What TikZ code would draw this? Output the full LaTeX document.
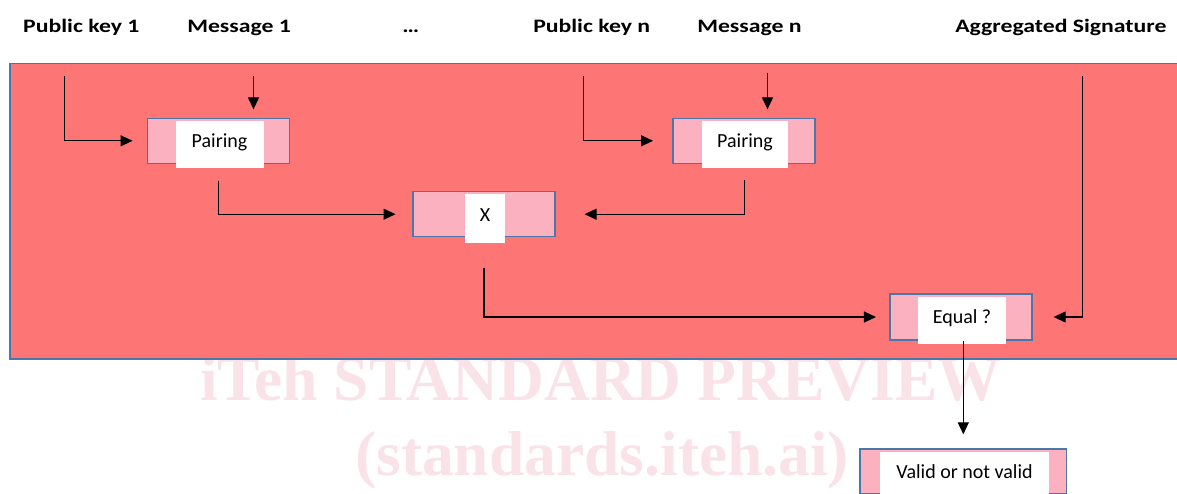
\documentclass[tikz,border=0pt]{standalone}
\usepackage{fontspec}
\setmainfont{Carlito}
\newfontfamily\wmfont{Liberation Serif}
\usetikzlibrary{arrows.meta}
\definecolor{bgred}{RGB}{253,117,117}
\definecolor{boxpink}{RGB}{252,177,192}
\definecolor{edgeblue}{RGB}{74,118,168}
\definecolor{wmpink}{RGB}{249,227,233}
\tikzset{
  pinkbox/.style={draw=edgeblue, line width=1.3pt, fill=boxpink, minimum width=142pt, minimum height=45pt, inner sep=0pt},
  whitelbl/.style={fill=white, inner sep=0pt, minimum height=47pt, text height=11.5pt, text depth=6pt, font=\fontsize{20}{23}\selectfont},
  toplbl/.style={anchor=base west, inner sep=0pt, font=\fontsize{19}{22}\selectfont\bfseries, xscale=1.25},
  wmark/.style={anchor=base west, inner sep=0pt, text=wmpink, font=\wmfont\bfseries\fontsize{63.5}{64}\selectfont},
  arr/.style={line width=1.2pt, -{Triangle[length=12pt,width=11pt]}},
}
\begin{document}
\begin{tikzpicture}[x=1pt,y=-1pt]
\useasboundingbox (0,0) rectangle (1177,493);
\clip (0,0) rectangle (1177,493);
% watermark
\node[wmark] (wm1) at (200,400) {iTeh STANDARD PREVIEW};
\node[wmark] (wm2) at (355,475) {(standards.iteh.ai)};
% background panel
\draw[draw=edgeblue, line width=1.5pt, fill=bgred] (10,63.5) rectangle (1195,359);
% top labels
\node[toplbl] (pk1) at (23,32.7) {Public key 1};
\node[toplbl] (m1) at (187,32.7) {Message 1};
\node[toplbl] (dots) at (402,32.7) {…};
\node[toplbl] (pkn) at (533,32.7) {Public key n};
\node[toplbl] (mn) at (697,32.7) {Message n};
\node[toplbl] (agg) at (955,32.7) {Aggregated Signature};
% boxes
\node[pinkbox] (p1) at (218.2,140.8) {};
\node[whitelbl, minimum width=88pt] (p1t) at (219.5,144.7) {Pairing};
\node[pinkbox] (pn) at (744,140.8) {};
\node[whitelbl, minimum width=86pt] (pnt) at (745,144.7) {Pairing};
\node[pinkbox] (x) at (483.9,214.2) {};
\node[whitelbl, minimum width=40pt, minimum height=48.7pt] (xt) at (485,218.3) {X};
\node[pinkbox, minimum height=46pt] (eq) at (961,317) {};
\node[whitelbl, minimum width=88pt] (eqt) at (962,320.5) {Equal ?};
\node[pinkbox, minimum width=206.7pt] (v) at (963.3,471.5) {};
\node[whitelbl, minimum width=169pt] (vt) at (964.5,475.5) {Valid or not valid};
% free ends
\coordinate (c1) at (64.3,75.7);
\coordinate (c2) at (253.5,76);
\coordinate (c3) at (583.6,76);
\coordinate (c4) at (767.5,72.7);
\coordinate (c8) at (1082.8,76);
% connectors
\draw[arr, shorten >=14pt] (c1) |- (p1.west);
\draw[arr, shorten >=8.3pt] (c2) -- (c2 |- p1.north);
\draw[arr, shorten >=19.3pt] (c3) |- (pn.west);
\draw[arr, shorten >=8.3pt] (c4) -- (c4 |- pn.north);
\draw[arr, shorten >=16.7pt] ([yshift=-16.7pt]p1.south) |- (x.west);
\draw[arr, shorten >=29pt] ([xshift=0.3pt,yshift=-15.7pt]pn.south) |- (x.east);
\draw[arr, shorten >=13.4pt] ([yshift=-30.6pt]x.south) |- (eq.west);
\draw[arr, shorten >=21pt] (c8) |- (eq.east);
\draw[arr, shorten >=14pt] (v.north |- eq.south) -- (v.north);
\end{tikzpicture}
\end{document}
